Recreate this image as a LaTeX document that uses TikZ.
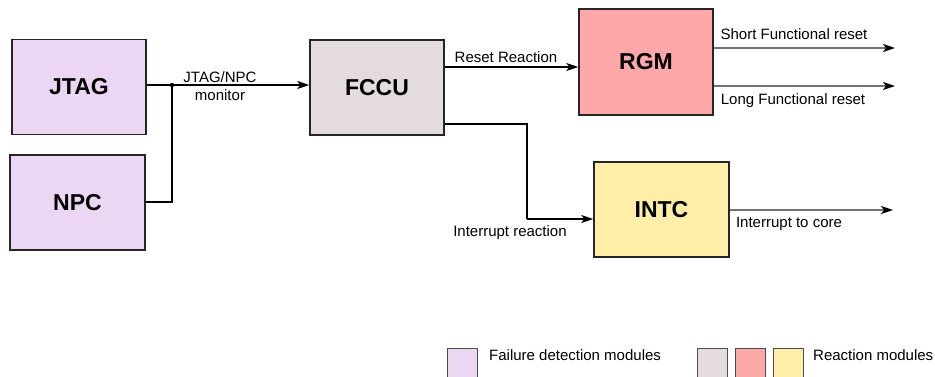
\documentclass[tikz,border=0pt]{standalone}
\usepackage{fontspec}
\setmainfont{Liberation Sans}
\usetikzlibrary{arrows.meta}
\definecolor{cpurple}{HTML}{EBD6F3}
\definecolor{cgray}{HTML}{E3DBDE}
\definecolor{cpink}{HTML}{FEA8AA}
\definecolor{cyellow}{HTML}{FFEEA8}
\begin{document}
\begin{tikzpicture}[x=1pt,y=-1pt,
  module/.style={draw=black!85, line width=1.5pt, minimum width=134pt, minimum height=95pt,
    inner sep=0pt, font=\fontsize{23}{26}\selectfont\bfseries},
  lab/.style={font=\fontsize{15}{17}\selectfont, inner sep=0pt},
  conn/.style={line width=1.5pt, -{Stealth[length=12pt,width=8pt,inset=3pt]}},
  wire/.style={line width=1.5pt},
  outp/.style={line width=1.8pt, black!55, -{Stealth[length=12pt,width=8pt,inset=3pt,black]}},
  legbox/.style={draw=black!70, line width=1pt}]
\useasboundingbox (0,0) rectangle (935,376);

\node[module, fill=cpurple] (jtag) at (79,87) {JTAG};
\node[module, fill=cpurple, minimum width=135pt] (npc) at (77.5,202.5) {NPC};
\node[module, fill=cgray] (fccu) at (377,87.5) {FCCU};
\node[module, fill=cpink, minimum height=106pt] (rgm) at (646,62) {RGM};
\node[module, fill=cyellow, minimum width=135pt] (intc) at (661.5,209.5) {INTC};

\coordinate (j) at (172,85);
\coordinate (rr) at (0,67);
\coordinate (ir) at (0,124);
\coordinate (bend) at (527,219);
\coordinate (sfr) at (895,48);
\coordinate (lfr) at (895,86);
\coordinate (itc) at (893,210);

\draw[wire] (jtag.east |- j) -- (j);
\draw[conn] (j) -- (fccu.west |- j);
\draw[wire] (npc.east |- 0,202) -| (j);
\fill (j) circle (2.2pt);

\draw[conn] (fccu.east |- rr) -- (rgm.west |- rr);
\draw[wire] (fccu.east |- ir) -| (bend);
\draw[conn] (bend) -- (intc.west |- bend);

\draw[outp] (rgm.east |- sfr) -- (sfr);
\draw[outp] (rgm.east |- lfr) -- (lfr);
\draw[outp] (intc.east |- itc) -- (itc);

\node[lab] (l1) at (220,77) {JTAG/NPC};
\node[lab] (l2) at (220,95) {monitor};
\node[lab] (l3) at (506,57) {Reset Reaction};
\node[lab] (l4) at (794,34) {Short Functional reset};
\node[lab] (l5) at (793,101) {Long Functional reset};
\node[lab] (l6) at (510,233) {Interrupt reaction};
\node[lab] (l7) at (789,224) {Interrupt to core};

\filldraw[legbox, fill=cpurple] (447,377) -- (447,348) -- (477,348) -- (477,377);
\filldraw[legbox, fill=cgray] (697,377) -- (697,348) -- (727,348) -- (727,377);
\filldraw[legbox, fill=cpink] (735,377) -- (735,348) -- (765,348) -- (765,377);
\filldraw[legbox, fill=cyellow] (773,377) -- (773,348) -- (803,348) -- (803,377);
\node[lab, anchor=west] (lg1) at (489,355) {Failure detection modules};
\node[lab, anchor=west] (lg2) at (813,355) {Reaction modules};
\end{tikzpicture}
\end{document}
